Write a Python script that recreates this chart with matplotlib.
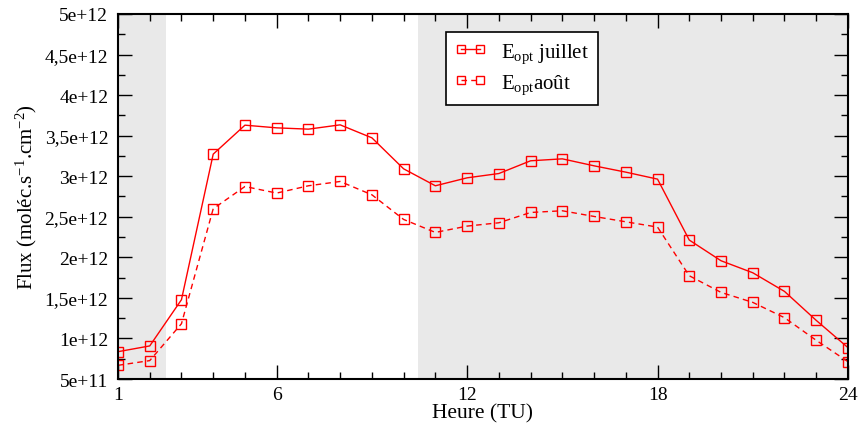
import matplotlib
matplotlib.use("Agg")
import matplotlib.pyplot as plt
from matplotlib.ticker import MultipleLocator, FixedLocator, FuncFormatter

plt.rcParams['font.family'] = ['Liberation Serif', 'DejaVu Serif']
plt.rcParams['mathtext.fontset'] = 'custom'
plt.rcParams['mathtext.rm'] = 'Liberation Serif'
plt.rcParams['mathtext.it'] = 'Liberation Serif'

hours = list(range(1, 25))
juillet = [0.837, 0.908, 1.478, 3.272, 3.629, 3.596, 3.58, 3.633, 3.473, 3.091,
           2.882, 2.98, 3.033, 3.19, 3.214, 3.128, 3.05, 2.964, 2.213, 1.958,
           1.81, 1.58, 1.223, 0.887]
aout = [0.669, 0.727, 1.182, 2.599, 2.873, 2.792, 2.882, 2.935, 2.771, 2.467,
        2.307, 2.385, 2.426, 2.553, 2.574, 2.504, 2.438, 2.373, 1.773, 1.568,
        1.445, 1.256, 0.977, 0.714]
juillet = [v * 1e12 for v in juillet]
aout = [v * 1e12 for v in aout]

night_spans = [(1, 2.52), (10.46, 24)]
x_labels = [1, 6, 12, 18, 24]

fig = plt.figure(figsize=(8.6, 4.27), dpi=100)
ax = fig.add_axes([0.1372, 0.110, 0.8488, 0.855])

for a, b in night_spans:
    ax.axvspan(a, b, facecolor='#e9e9e9', edgecolor='none', zorder=0)

ax.plot(hours, juillet, '-', color='red', lw=1, marker='s', ms=6.5,
        mfc='none', mec='red', mew=1, label=r'E$_{\mathregular{opt}}$ juillet')
ax.plot(hours, aout, '--', color='red', lw=1, marker='s', ms=6.5,
        mfc='none', mec='red', mew=1, dashes=(4, 3),
        label=r'E$_{\mathregular{opt}}$août')

ax.set_xlim(1, 24)
ax.set_ylim(5e11, 5e12)

ax.xaxis.set_major_locator(FixedLocator(x_labels))
ax.xaxis.set_minor_locator(MultipleLocator(1))
ax.yaxis.set_major_locator(MultipleLocator(5e11))
ax.yaxis.set_minor_locator(MultipleLocator(2.5e11))


def fmt(v, pos):
    m = v / 1e12
    if m < 1:
        return "5e+11"
    s = ("%g" % m).replace('.', ',')
    return s + "e+12"


ax.yaxis.set_major_formatter(FuncFormatter(fmt))
ax.tick_params(which='both', direction='in', top=True, right=True, width=1)
ax.tick_params(which='major', length=10, labelsize=14)
ax.tick_params(axis='y', which='major', pad=7)
ax.tick_params(axis='x', which='major', pad=5)
ax.tick_params(which='minor', length=5)
for s in ax.spines.values():
    s.set_linewidth(1.5)

ax.set_xlabel('Heure (TU)', fontsize=15.5, labelpad=0)
ax.set_ylabel(r'Flux (moléc.s$^{\mathregular{ -1}}$.cm$^{\mathregular{ -2}}$)',
              fontsize=15, labelpad=4)

leg = ax.legend(loc='upper left', bbox_to_anchor=(0.449, 0.951), fontsize=15,
                borderaxespad=0, frameon=True, fancybox=False,
                edgecolor='black', numpoints=2, markerscale=0.8,
                handlelength=1.5, borderpad=0.45, labelspacing=0.35,
                handletextpad=0.7)
leg.get_frame().set_linewidth(1.2)
leg.get_frame().set_facecolor('white')
leg.get_frame().set_alpha(1)

fig.savefig('out.png', dpi=100)
